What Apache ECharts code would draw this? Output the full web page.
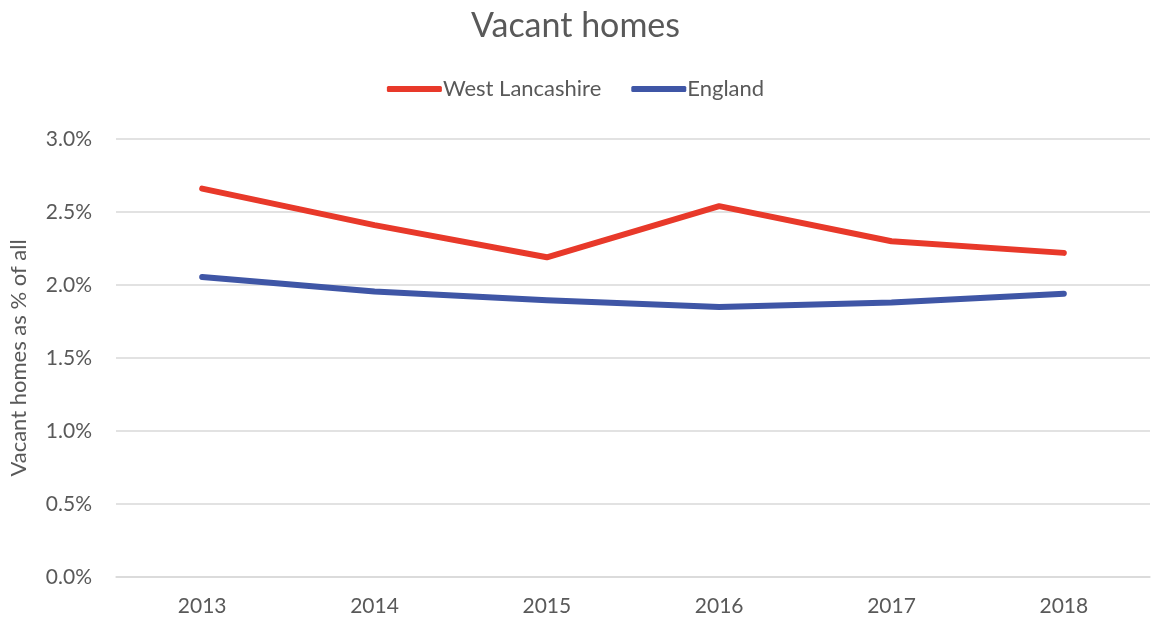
<!DOCTYPE html>
<html>
<head>
<meta charset="utf-8">
<script src="https://cdn.jsdelivr.net/npm/echarts@6/dist/echarts.min.js"></script>
<style>html,body{margin:0;padding:0;background:#fff}#c{width:1151px;height:624px}</style>
</head>
<body>
<div id="c"></div>
<script>
const years = ['2013','2014','2015','2016','2017','2018'];
const westLancashire = [2.66, 2.41, 2.19, 2.54, 2.30, 2.22];
const england = [2.055, 1.955, 1.895, 1.85, 1.88, 1.94];
const yTicks = [0, 0.5, 1.0, 1.5, 2.0, 2.5, 3.0];

const font = 'Lato, "Noto Sans", sans-serif';
const chart = echarts.init(document.getElementById('c'), null, {renderer: 'canvas'});
chart.setOption({
  animation: false,
  backgroundColor: '#fff',
  title: {
    text: 'Vacant homes', left: 'center', top: 4,
    textStyle: {fontFamily: font, fontSize: 34, fontWeight: 'normal', color: '#595959'}
  },
  legend: {
    top: 73, left: 'center', itemWidth: 55, itemHeight: 6, itemGap: 30,
    icon: 'roundRect',
    textStyle: {fontFamily: font, fontSize: 22, color: '#595959', padding: [0,0,0,-4]},
    data: ['West Lancashire', 'England']
  },
  grid: {left: 116, right: 1, top: 139, bottom: 47, containLabel: false},
  xAxis: {
    type: 'category', data: years, boundaryGap: true,
    axisLine: {lineStyle: {color: '#D9D9D9', width: 1.5}},
    axisTick: {show: false},
    axisLabel: {fontFamily: font, fontSize: 21, color: '#595959', margin: 19}
  },
  yAxis: {
    type: 'value', min: 0, max: 3.0, interval: 0.5,
    name: 'Vacant homes as % of all', nameLocation: 'middle', nameGap: 86, nameRotate: 90,
    nameTextStyle: {fontFamily: font, fontSize: 22, color: '#595959'},
    axisLine: {show: false}, axisTick: {show: false},
    axisLabel: {fontFamily: font, fontSize: 21, color: '#595959', margin: 24,
      formatter: v => v.toFixed(1) + '%'},
    splitLine: {lineStyle: {color: '#D9D9D9', width: 1.5}}
  },
  series: [
    {name: 'West Lancashire', type: 'line', data: westLancashire, symbol: 'none',
     lineStyle: {color: '#E8392A', width: 6, cap: 'round', join: 'round'}, itemStyle: {color: '#E8392A'}},
    {name: 'England', type: 'line', data: england, symbol: 'none',
     lineStyle: {color: '#3F56A6', width: 6, cap: 'round', join: 'round'}, itemStyle: {color: '#3F56A6'}}
  ]
});
</script>
</body>
</html>
